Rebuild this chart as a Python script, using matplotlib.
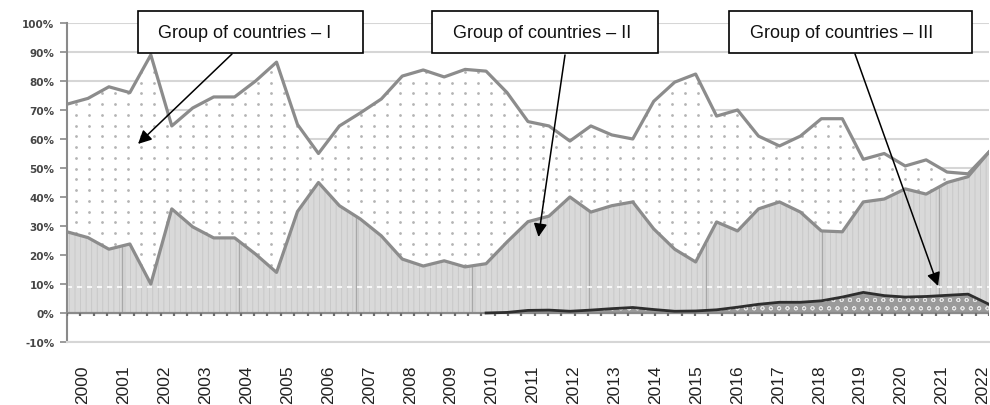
import numpy as np
import matplotlib
matplotlib.use('Agg')
import matplotlib.pyplot as plt
from matplotlib.patches import Rectangle

# ---------------- data (semiannual observations, 2000 -> 2022) ----------------
years = [str(y) for y in range(2000, 2023)]

# upper boundary of group I (cumulative share, %)
top_line = [72, 74, 78, 76, 89, 64.5, 70.7, 74.5, 74.5, 80, 86.5, 65, 55, 64.5,
            69, 73.8, 81.7, 83.8, 81.4, 84, 83.4, 76, 66, 64.5, 59.3, 64.5,
            61.4, 60, 73, 79.6, 82.4, 67.9, 70, 61, 57.6, 61, 67, 67, 53, 55,
            50.7, 52.8, 48.6, 48, 55.5]

# upper boundary of group II (%)
mid_line = [28, 26, 22, 23.8, 10, 35.9, 29.7, 25.9, 25.9, 20.3, 14, 35, 45, 37,
            32.4, 26.6, 18.6, 16.2, 18, 15.9, 17, 24.5, 31.5, 33.4, 40, 34.8,
            37, 38.3, 29, 22, 17.6, 31.4, 28.3, 35.9, 38.3, 34.8, 28.3, 28,
            38.3, 39.3, 42.8, 41, 45, 47, 55.5]

# group III (%)
low_line = [0, 0, 0, 0, 0, 0, 0, 0, 0, 0, 0, 0, 0, 0, 0, 0, 0, 0, 0, 0, 0,
            0.2, 0.9, 1.0, 0.6, 1.0, 1.5, 1.9, 1.2, 0.6, 0.7, 1.1, 2.0, 3.0,
            3.7, 3.7, 4.2, 5.5, 7.1, 6.0, 5.5, 5.7, 6.1, 6.5, 3.0]

labels = ["Group of countries – I", "Group of countries – II",
          "Group of countries – III"]

# ---------------- figure ----------------
W, H, DPI = 990, 406, 100
plt.rcParams['hatch.linewidth'] = 0.6
fig = plt.figure(figsize=(W / DPI, H / DPI), dpi=DPI)
ax = fig.add_axes([67 / W, (H - 343) / H, (989 - 67) / W, (343 - 24) / H])

top = np.array(top_line, float)
mid = np.array(mid_line, float)
low = np.array(low_line, float)
x = np.arange(len(top))

# fills
area1 = ax.fill_between(x, mid, top, facecolor='white', lw=0, zorder=1)
ax.fill_between(x, 0, mid, facecolor='#d9d9d9', hatch='|||', edgecolor='#c6c6c6',
                lw=0, zorder=1)
ax.fill_between(x, 0, low, facecolor='#9a9a9a', hatch='oo', edgecolor='#e4e4e4',
                lw=0, zorder=2)

# dotted texture of the group I area (clipped to its polygon)
gx, gy = np.meshgrid(np.arange(0.45, len(top), 0.618), np.arange(-2, 100, 3.7))
dots = ax.scatter(gx.ravel(), gy.ravel(), s=4, marker='o', color='#b4b4b4',
                  linewidths=0, zorder=1.2)
dots.set_clip_path(area1.get_paths()[0], ax.transData)

# texture: darker vertical strokes within the group II area
vx = np.arange(2.63, len(top) - 1, 5.57)
ax.vlines(vx, 0, np.interp(vx, x, mid), color='#a8a8a8', lw=1, zorder=1.5)
# white dashed texture line
ax.plot([x[0], x[-1]], [9, 9], color='white', lw=1.2, ls=(0, (3, 3)), zorder=1.6)

# lines
ax.plot(x, top, color='#8c8c8c', lw=2.3, zorder=4, solid_joinstyle='round')
ax.plot(x, mid, color='#8c8c8c', lw=2.3, zorder=4, solid_joinstyle='round')
start = max(int(np.argmax(low > 0)) - 1, 0)
ax.plot(x[start:], low[start:], color='#2e2e2e', lw=2, zorder=5)

# zero line with teeth
ax.axhline(0, color='#8a8a8a', lw=1.6, zorder=3)
teeth = np.linspace(0, len(top) - 1, 70)
ax.vlines(teeth, -1.0, 0, color='#6e6e6e', lw=1.6, zorder=3)

# axes styling
ax.set_xlim(0, len(top) - 1)
ax.set_ylim(-10, 100)
yt = list(range(-10, 101, 10))
ax.set_yticks(yt)
ax.set_yticklabels([f'{v}%' for v in yt], fontsize=7.5, fontweight='bold',
                   color='#454545', family='DejaVu Sans')
ax.tick_params(axis='y', length=5, width=1.2, color='#8a8a8a', pad=4)
ax.grid(axis='y', color='#d6d6d6', lw=1.5, zorder=0)
ax.set_axisbelow(True)

xt = np.linspace(0.764, 43.7, len(years))
ax.set_xticks(xt)
ax.set_xticklabels(years, rotation=90, fontsize=12.5, family='Liberation Sans',
                   color='#222222')
ax.tick_params(axis='x', length=0, pad=16)

for s in ['top', 'right']:
    ax.spines[s].set_visible(False)
ax.spines['left'].set_color('#8a8a8a')
ax.spines['left'].set_linewidth(1.5)
ax.spines['bottom'].set_color('#d6d6d6')
ax.spines['bottom'].set_linewidth(1.5)

# ---------------- annotation boxes & arrows (figure pixels) ----------------
boxes = [(138, 363, 245), (432, 658, 542), (729, 972, 842)]
box_top, box_bot = 12, 54
arrow_src = [(232, 55), (565, 56), (855, 55)]
arrow_dst = [(3.39, 58.3), (22.5, 26.2), (41.57, 9.3)]

for (x0, x1, tc), lab, src, dst in zip(boxes, labels, arrow_src, arrow_dst):
    rect = Rectangle((x0 / W, (H - box_bot) / H), (x1 - x0) / W,
                     (box_bot - box_top) / H, transform=fig.transFigure,
                     facecolor='white', edgecolor='black', lw=1.2, zorder=10)
    fig.add_artist(rect)
    fig.text(tc / W, (H - (box_top + box_bot) / 2) / H, lab, ha='center',
             va='center', fontsize=13, family='Liberation Sans', color='#111111',
             zorder=11)
    ax.annotate('', xy=dst, xycoords='data',
                xytext=(src[0], H - src[1]), textcoords='figure pixels',
                arrowprops=dict(arrowstyle='-|>', color='black', lw=1.1,
                                mutation_scale=20, shrinkA=0, shrinkB=0),
                zorder=12, annotation_clip=False)

fig.savefig('out.png', dpi=DPI)
